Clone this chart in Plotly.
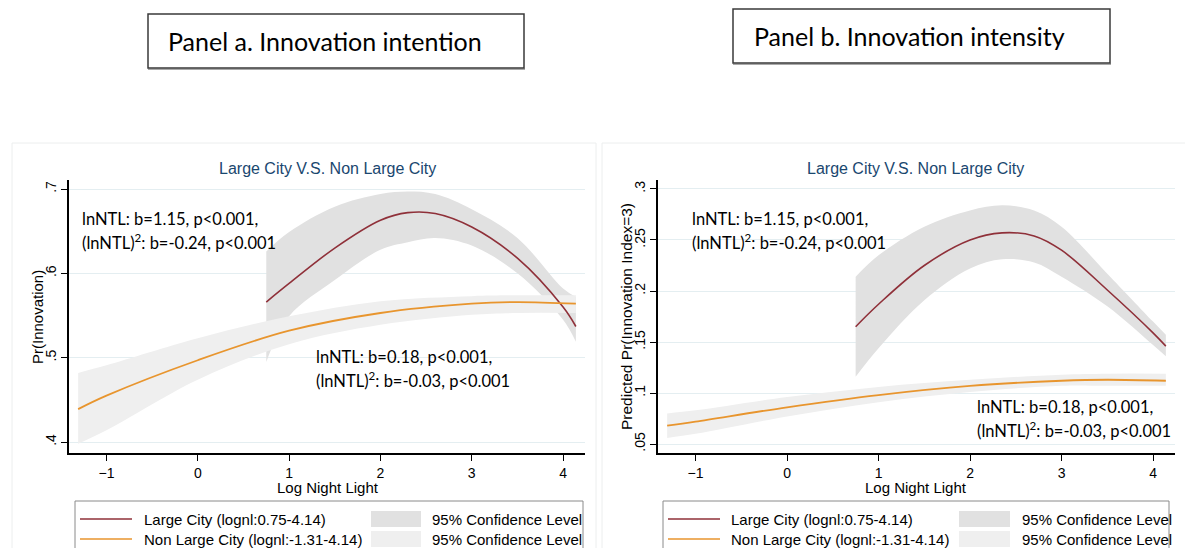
import plotly.graph_objects as go

# ---------------- data ----------------
# Panel a: Pr(Innovation)
a_large_x = [0.75, 1.0, 1.5, 2.0, 2.3, 2.6, 3.0, 3.5, 4.0, 4.14]
a_large_y = [0.566, 0.588, 0.630, 0.663, 0.672, 0.671, 0.655, 0.618, 0.560, 0.537]
a_large_hi = [0.626, 0.649, 0.679, 0.694, 0.697, 0.694, 0.676, 0.642, 0.582, 0.572]
a_large_lo = [0.495, 0.549, 0.592, 0.628, 0.637, 0.642, 0.633, 0.600, 0.545, 0.519]

a_non_x = [-1.31, -1.0, 0.0, 1.0, 2.0, 3.0, 3.5, 4.14]
a_non_y = [0.439, 0.455, 0.497, 0.532, 0.553, 0.564, 0.566, 0.564]
a_non_hi = [0.482, 0.491, 0.523, 0.549, 0.567, 0.573, 0.574, 0.574]
a_non_lo = [0.398, 0.414, 0.474, 0.516, 0.539, 0.551, 0.553, 0.553]

# Panel b: Predicted Pr(Innovation Index=3)
b_large_x = [0.75, 1.0, 1.5, 2.0, 2.35, 2.7, 3.0, 3.5, 4.0, 4.14]
b_large_y = [0.165, 0.187, 0.225, 0.250, 0.257, 0.254, 0.240, 0.201, 0.159, 0.146]
b_large_hi = [0.214, 0.235, 0.263, 0.279, 0.284, 0.279, 0.263, 0.217, 0.170, 0.157]
b_large_lo = [0.116, 0.144, 0.191, 0.222, 0.231, 0.228, 0.214, 0.185, 0.147, 0.136]

b_non_x = [-1.31, -1.0, 0.0, 1.0, 2.0, 3.0, 3.5, 4.14]
b_non_y = [0.068, 0.072, 0.086, 0.098, 0.107, 0.112, 0.113, 0.112]
b_non_hi = [0.080, 0.083, 0.096, 0.106, 0.113, 0.118, 0.119, 0.119]
b_non_lo = [0.056, 0.060, 0.077, 0.091, 0.101, 0.107, 0.107, 0.107]

x_ticks = [-1, 0, 1, 2, 3, 4]
a_yticks = [0.4, 0.5, 0.6, 0.7]
a_yticktext = [".4", ".5", ".6", ".7"]
b_yticks = [0.05, 0.1, 0.15, 0.2, 0.25, 0.3]
b_yticktext = [".05", ".1", ".15", ".2", ".25", ".3"]

legend_labels = ["Large City (lognl:0.75-4.14)", "Non Large City (lognl:-1.31-4.14)"]
ci_label = "95% Confidence Level"
panel_titles = ["Panel a. Innovation intention", "Panel b. Innovation intensity"]
plot_title = "Large City V.S. Non Large City"
y_titles = ["Pr(Innovation)", "Predicted Pr(Innovation Index=3)"]
x_title = "Log Night Light"
note_large = ["lnNTL: b=1.15, p<0.001,", "(lnNTL)<sup>2</sup>: b=-0.24, p<0.001"]
note_non = ["lnNTL: b=0.18, p<0.001,", "(lnNTL)<sup>2</sup>: b=-0.03, p<0.001"]

# ---------------- style ----------------
W, H = 1185, 548
RED = "#8f3039"
ORANGE = "#e8952e"
BAND_L = "#e1e1e1"
BAND_N = "#efefef"
GRID = "#e4eef1"
TITLE_BLUE = "#1a476f"
ARIAL = "Liberation Sans, Arial, sans-serif"
CALIBRI = "Lato, Open Sans, sans-serif"


def X(px):
    return px / W


def Y(py):
    return 1 - py / H


fig = go.Figure()


def add_panel(xa, ya, lx, ly, lhi, llo, nx, ny, nhi, nlo):
    fig.add_trace(go.Scatter(x=lx, y=lhi, mode="lines", line=dict(width=0, shape="spline"),
                             xaxis=xa, yaxis=ya, showlegend=False, hoverinfo="skip"))
    fig.add_trace(go.Scatter(x=lx, y=llo, mode="lines", line=dict(width=0, shape="spline"),
                             fill="tonexty", fillcolor=BAND_L,
                             xaxis=xa, yaxis=ya, showlegend=False, hoverinfo="skip"))
    fig.add_trace(go.Scatter(x=nx, y=nhi, mode="lines", line=dict(width=0, shape="spline"),
                             xaxis=xa, yaxis=ya, showlegend=False, hoverinfo="skip"))
    fig.add_trace(go.Scatter(x=nx, y=nlo, mode="lines", line=dict(width=0, shape="spline"),
                             fill="tonexty", fillcolor=BAND_N,
                             xaxis=xa, yaxis=ya, showlegend=False, hoverinfo="skip"))
    fig.add_trace(go.Scatter(x=lx, y=ly, mode="lines", line=dict(color=RED, width=1.6, shape="spline"),
                             xaxis=xa, yaxis=ya, showlegend=False))
    fig.add_trace(go.Scatter(x=nx, y=ny, mode="lines", line=dict(color=ORANGE, width=1.8, shape="spline"),
                             xaxis=xa, yaxis=ya, showlegend=False))


add_panel("x", "y", a_large_x, a_large_y, a_large_hi, a_large_lo, a_non_x, a_non_y, a_non_hi, a_non_lo)
add_panel("x2", "y2", b_large_x, b_large_y, b_large_hi, b_large_lo, b_non_x, b_non_y, b_non_hi, b_non_lo)

xaxis_common = dict(range=[-1.41, 4.24], tickvals=x_ticks, ticks="outside", ticklen=6, tickwidth=1,
                    tickcolor="black", showline=True, linecolor="black", linewidth=1.5,
                    showgrid=False, zeroline=False, fixedrange=True,
                    tickfont=dict(family=ARIAL, size=14, color="black"))
yaxis_common = dict(ticks="outside", ticklen=6, tickwidth=1, tickcolor="black", showline=True,
                    linecolor="black", linewidth=1.5, showgrid=True, gridcolor=GRID, gridwidth=1.2,
                    zeroline=False, tickangle=-90, fixedrange=True,
                    tickfont=dict(family=ARIAL, size=14, color="black"))

fig.update_layout(
    width=W, height=H, margin=dict(l=0, r=0, t=0, b=0),
    paper_bgcolor="white", plot_bgcolor="white", showlegend=False,
    xaxis=dict(domain=[X(69), X(585)], anchor="y", **xaxis_common),
    yaxis=dict(domain=[Y(453), Y(180)], anchor="x", range=[0.387, 0.7107],
               tickvals=a_yticks, ticktext=a_yticktext, **yaxis_common),
    xaxis2=dict(domain=[X(658), X(1175)], anchor="y2", **xaxis_common),
    yaxis2=dict(domain=[Y(453), Y(180)], anchor="x2", range=[0.0412, 0.3088],
                tickvals=b_yticks, ticktext=b_yticktext, **yaxis_common),
)

shapes = []
ann = []

# panel region frames (faint)
for x0, x1 in [(12, 596), (602, 1192)]:
    shapes.append(dict(type="rect", xref="paper", yref="paper", x0=X(x0), x1=X(x1), y0=Y(560), y1=Y(143),
                       line=dict(color="#eceeee", width=1), layer="below"))

# title boxes
for (x0, x1, y0, y1, tx), txt in zip([(148, 524, 14, 68, 166), (733, 1110, 9, 63, 752)], panel_titles):
    shapes.append(dict(type="rect", xref="paper", yref="paper", x0=X(x0), x1=X(x1), y0=Y(y1), y1=Y(y0),
                       line=dict(color="#3a3a3a", width=1.5)))
    shapes.append(dict(type="line", xref="paper", yref="paper", x0=X(x0), x1=X(x1 + 1), y0=Y(y1 + 1),
                       y1=Y(y1 + 1), line=dict(color="#555555", width=1.2)))
    ann.append(dict(xref="paper", yref="paper", x=X(tx), y=Y((y0 + y1) / 2), text=txt, showarrow=False,
                    xanchor="left", yanchor="middle", font=dict(family=CALIBRI, size=25, color="black")))

# plot titles
for cx in [327, 915]:
    ann.append(dict(xref="paper", yref="paper", x=X(cx), y=Y(169), text=plot_title, showarrow=False,
                    xanchor="center", yanchor="middle", font=dict(family=ARIAL, size=16, color=TITLE_BLUE)))

# axis titles
for cx in [328, 916]:
    ann.append(dict(xref="paper", yref="paper", x=X(cx), y=Y(487), text=x_title, showarrow=False,
                    xanchor="center", yanchor="middle", font=dict(family=ARIAL, size=15, color="black")))
ann.append(dict(xref="paper", yref="paper", x=X(37), y=Y(317), text=y_titles[0], showarrow=False,
                textangle=-90, xanchor="center", yanchor="middle",
                font=dict(family=ARIAL, size=15, color="black")))
ann.append(dict(xref="paper", yref="paper", x=X(626), y=Y(317), text=y_titles[1], showarrow=False,
                textangle=-90, xanchor="center", yanchor="middle",
                font=dict(family=ARIAL, size=15.5, color="black")))

# regression notes
for (lx, ly), lines in [((80, 219), note_large), ((314, 357), note_non),
                        ((690, 219), note_large), ((975, 407), note_non)]:
    for i, t in enumerate(lines):
        ann.append(dict(xref="paper", yref="paper", x=X(lx), y=Y(ly + 23 * i), text=t, showarrow=False,
                        xanchor="left", yanchor="middle", font=dict(family=CALIBRI, size=16.5, color="black")))

# legends
for (bx0, bx1, l0, l1, t1, s0, s1, t2) in [(75, 583, 80, 132, 142, 371, 421, 430),
                                          (663, 1169, 668, 720, 729, 959, 1010, 1020)]:
    shapes.append(dict(type="rect", xref="paper", yref="paper", x0=X(bx0), x1=X(bx1), y0=Y(560), y1=Y(501),
                       line=dict(color="#8a8a8a", width=1)))
    for row, (col, band, lab) in enumerate([(RED, BAND_L, legend_labels[0]), (ORANGE, BAND_N, legend_labels[1])]):
        yy = 519 + 20 * row
        shapes.append(dict(type="line", xref="paper", yref="paper", x0=X(l0), x1=X(l1), y0=Y(yy), y1=Y(yy),
                           line=dict(color=col, width=1.5)))
        shapes.append(dict(type="rect", xref="paper", yref="paper", x0=X(s0), x1=X(s1), y0=Y(yy + 8),
                           y1=Y(yy - 8), line=dict(width=0), fillcolor=band))
        ann.append(dict(xref="paper", yref="paper", x=X(t1), y=Y(yy), text=lab, showarrow=False,
                        xanchor="left", yanchor="middle", font=dict(family=ARIAL, size=15, color="black")))
        ann.append(dict(xref="paper", yref="paper", x=X(t2), y=Y(yy), text=ci_label, showarrow=False,
                        xanchor="left", yanchor="middle", font=dict(family=ARIAL, size=15, color="black")))

fig.update_layout(shapes=shapes, annotations=ann)
fig.write_html("out.html", config={"displayModeBar": False},
               post_script="document.body.style.margin='0';document.body.style.overflow='hidden';")
